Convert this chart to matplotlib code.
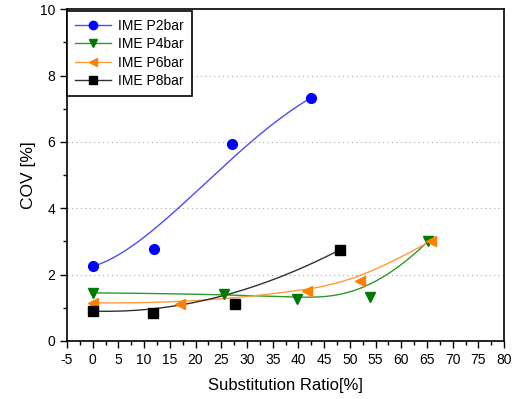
import numpy as np
import matplotlib
matplotlib.use("Agg")
import matplotlib.pyplot as plt

plt.rcParams['font.family'] = ['Liberation Sans', 'DejaVu Sans']
plt.rcParams['axes.unicode_minus'] = False

# data
x_2bar = [0, 12, 27, 42.5]
cov_2bar = [2.25, 2.78, 5.95, 7.33]

x_4bar = [0, 25.5, 39.7, 54, 65.2]
cov_4bar = [1.45, 1.42, 1.27, 1.33, 3.0]

x_6bar = [0, 17, 41.7, 52, 65.8]
cov_6bar = [1.15, 1.12, 1.5, 1.82, 3.02]

x_8bar = [0, 11.7, 27.7, 48.1]
cov_8bar = [0.9, 0.85, 1.12, 2.75]

labels = ["IME P2bar", "IME P4bar", "IME P6bar", "IME P8bar"]


def bspline(xs, ys, n=200):
    # clamped B-spline through the data as control points (like Origin's B-Spline connect)
    P = np.column_stack([xs, ys]).astype(float)
    m = len(P)
    k = min(3, m - 1)
    inner = np.linspace(0, 1, m - k + 1)[1:-1]
    knots = np.concatenate([np.zeros(k + 1), inner, np.ones(k + 1)])
    t = np.linspace(0, 1, n)
    t[-1] = 1 - 1e-9
    # Cox-de Boor
    B = np.zeros((n, len(knots) - 1))
    for i in range(len(knots) - 1):
        B[:, i] = (t >= knots[i]) & (t < knots[i + 1])
    for d in range(1, k + 1):
        Bn = np.zeros((n, len(knots) - 1 - d))
        for i in range(len(knots) - 1 - d):
            a = 0.0
            if knots[i + d] > knots[i]:
                a = (t - knots[i]) / (knots[i + d] - knots[i]) * B[:, i]
            b = 0.0
            if knots[i + d + 1] > knots[i + 1]:
                b = (knots[i + d + 1] - t) / (knots[i + d + 1] - knots[i + 1]) * B[:, i + 1]
            Bn[:, i] = a + b
        B = Bn
    C = B @ P
    return C[:, 0], C[:, 1]


fig = plt.figure(figsize=(5.17, 3.99), dpi=100)
ax = fig.add_axes([0.1296, 0.1454, 0.8454, 0.8316])

series = [
    (x_2bar, cov_2bar, '#0000ff', '#4a4aff', 'o', 7),
    (x_4bar, cov_4bar, '#007a00', '#2a9a2a', 'v', 7.5),
    (x_6bar, cov_6bar, '#ff7f00', '#ff9a3a', '<', 7.5),
    (x_8bar, cov_8bar, '#000000', '#303030', 's', 6.5),
]

for (xs, ys, mc, lc, mk, ms), lab in zip(series, labels):
    cx, cy = bspline(xs, ys)
    ax.plot(cx, cy, color=lc, lw=1.0, zorder=2)
    ax.plot(xs, ys, ls='none', marker=mk, ms=ms, color=mc, zorder=3)
    # legend handle
    ax.plot([], [], color=lc, lw=1.0, marker=mk, ms=6, mfc=mc, mec=mc, label=lab)

ax.set_xlim(-5, 80)
ax.set_ylim(0, 10)
ax.set_xticks(np.arange(-5, 81, 5))
ax.set_xticks(np.arange(-2.5, 80, 5), minor=True)
ax.set_yticks(np.arange(0, 11, 2))
ax.set_yticks(np.arange(1, 10, 2), minor=True)
ax.tick_params(which='major', direction='out', length=5, width=1, labelsize=10)
ax.tick_params(which='minor', direction='out', length=3, width=1)
for s in ax.spines.values():
    s.set_linewidth(1.2)

for yv in [2, 4, 6, 8]:
    ax.axhline(yv, color='#aaaaaa', lw=0.8, ls=(0, (1, 3)), zorder=1)

ax.set_xlabel("Substitution Ratio[%]", fontsize=12, labelpad=8)
ax.set_ylabel("COV [%]", fontsize=12.5, labelpad=3)

leg = ax.legend(loc='upper left', bbox_to_anchor=(0.0, 0.995), borderaxespad=0,
                fontsize=10, fancybox=False, edgecolor='black', framealpha=1,
                handlelength=2.6, handletextpad=0.5, labelspacing=0.3,
                borderpad=0.6)
leg.get_frame().set_linewidth(1.2)

fig.savefig("out.png", dpi=100)
